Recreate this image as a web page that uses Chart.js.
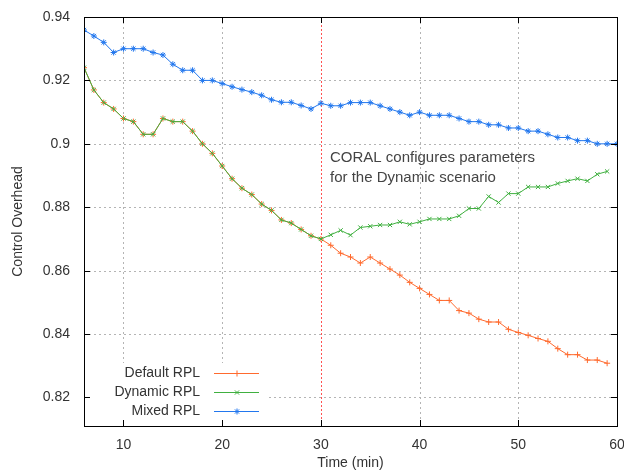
<!DOCTYPE html>
<html>
<head>
<meta charset="utf-8">
<script src="https://cdn.jsdelivr.net/npm/chart.js@4"></script>
<style>
  html, body { margin: 0; padding: 0; background: #fff; }
  #wrap { width: 624px; height: 472px; }
</style>
</head>
<body>
<div id="wrap"><canvas id="chart" width="624" height="472"></canvas></div>
<script>
// minutes 6..59 (mixed goes to 60)
const minutes = [6,7,8,9,10,11,12,13,14,15,16,17,18,19,20,21,22,23,24,25,26,27,28,29,30,31,32,33,34,35,36,37,38,39,40,41,42,43,44,45,46,47,48,49,50,51,52,53,54,55,56,57,58,59,60];

const defaultRpl = [0.924,0.917,0.913,0.911,0.908,0.907,0.903,0.903,0.908,0.907,0.907,0.904,0.900,0.897,0.893,0.889,0.886,0.884,0.881,0.879,0.876,0.875,0.873,0.871,0.870,
  0.868,0.8655,0.8643,0.8624,0.8643,0.8624,0.8605,0.8586,0.8563,0.8544,0.8525,0.8506,0.8506,0.8474,0.8466,0.8447,0.8438,0.8438,0.8415,0.8405,0.8396,0.8386,0.8377,0.8354,0.8335,0.8335,0.8318,0.8318,0.8308];

const dynamicRpl = [0.924,0.917,0.913,0.911,0.908,0.907,0.903,0.903,0.908,0.907,0.907,0.904,0.900,0.897,0.893,0.889,0.886,0.884,0.881,0.879,0.876,0.875,0.873,0.871,0.870,
  0.8713,0.8727,0.8712,0.8736,0.874,0.8744,0.8744,0.8754,0.8746,0.8754,0.8763,0.8763,0.8763,0.8773,0.8796,0.8796,0.8834,0.8815,0.8843,0.8843,0.8864,0.8864,0.8864,0.8875,0.8883,0.889,0.8883,0.8904,0.8913];

const mixedRpl = [0.9359,0.934,0.932,0.9288,0.930,0.930,0.930,0.9288,0.928,0.9251,0.9232,0.9232,0.920,0.920,0.919,0.918,0.9171,0.9163,0.9153,0.9139,0.9131,0.9131,0.9121,0.911,0.9128,
  0.912,0.912,0.913,0.913,0.913,0.912,0.911,0.910,0.909,0.910,0.909,0.909,0.909,0.908,0.907,0.907,0.906,0.906,0.905,0.905,0.904,0.904,0.903,0.902,0.902,0.901,0.901,0.900,0.900,0.900];

const yTicks = [0.82,0.84,0.86,0.88,0.9,0.92,0.94];
const xTicks = [10,20,30,40,50,60];
const markerX = 30;
const noteLines = ["CORAL configures parameters", "for the Dynamic scenario"];

const FONT = '"Liberation Sans", Arial, sans-serif';
const TEXT = "#333";
// later series is drawn on top, like gnuplot does
const series = [
  { label: "Default RPL", data: defaultRpl, color: "#ff6a2e", style: "cross", order: 2 },
  { label: "Dynamic RPL", data: dynamicRpl, color: "#40b040", style: "crossRot", order: 1 },
  { label: "Mixed RPL", data: mixedRpl, color: "#2277ee", style: "star", order: 0 }
];

const toPoints = arr => arr.map((v, i) => ({ x: minutes[i], y: v }));

// gnuplot-ish frame, dotted grid, inward ticks, tick labels, legend and note
const gnuplotLook = {
  id: "gnuplotLook",
  beforeDatasetsDraw(chart) {
    const { ctx, chartArea: a, scales: { x, y } } = chart;
    ctx.save();
    ctx.strokeStyle = "#b4b4b4"; ctx.lineWidth = 1; ctx.setLineDash([2, 3]);
    xTicks.forEach(t => { const px = Math.round(x.getPixelForValue(t)) + 0.5; if (t === markerX || t === 60) return; ctx.beginPath(); ctx.moveTo(px, a.top); ctx.lineTo(px, a.bottom); ctx.stroke(); });
    yTicks.forEach(t => { const py = Math.round(y.getPixelForValue(t)) + 0.5; if (t === 0.94) return; ctx.beginPath(); ctx.moveTo(a.left, py); ctx.lineTo(a.right, py); ctx.stroke(); });
    // red marker line
    ctx.strokeStyle = "#ff5050"; ctx.setLineDash([2, 2]);
    const mx = Math.round(x.getPixelForValue(markerX)) + 0.5;
    ctx.beginPath(); ctx.moveTo(mx, a.top); ctx.lineTo(mx, a.bottom); ctx.stroke();
    ctx.restore();
  },
  afterDatasetsDraw(chart) {
    const { ctx, chartArea: a, scales: { x, y } } = chart;
    ctx.save();
    // legend box (opaque)
    ctx.fillStyle = "#fff";
    ctx.fillRect(a.left + 1, 363, 268 - a.left, a.bottom - 363 - 1);
    // frame
    ctx.strokeStyle = "#000"; ctx.lineWidth = 1; ctx.setLineDash([]);
    ctx.strokeRect(Math.round(a.left) + 0.5, Math.round(a.top) + 0.5, Math.round(a.right - a.left), Math.round(a.bottom - a.top));
    // inward ticks on all sides
    ctx.beginPath();
    xTicks.forEach(t => { const px = Math.round(x.getPixelForValue(t)) + 0.5; ctx.moveTo(px, a.bottom); ctx.lineTo(px, a.bottom - 6); ctx.moveTo(px, a.top); ctx.lineTo(px, a.top + 6); });
    yTicks.forEach(t => { const py = Math.round(y.getPixelForValue(t)) + 0.5; ctx.moveTo(a.left, py); ctx.lineTo(a.left + 6, py); ctx.moveTo(a.right, py); ctx.lineTo(a.right - 6, py); });
    ctx.stroke();

    // tick labels
    ctx.font = "14px " + FONT; ctx.fillStyle = TEXT; ctx.textBaseline = "middle";
    ctx.textAlign = "right";
    yTicks.forEach(t => ctx.fillText(String(+t.toFixed(2)), a.left - 14, y.getPixelForValue(t)));
    ctx.textAlign = "center";
    xTicks.forEach(t => ctx.fillText(String(t), x.getPixelForValue(t), a.bottom + 19));

    // legend
    series.forEach((s, i) => {
      const ly = 373 + i * 19;
      ctx.fillStyle = TEXT; ctx.textAlign = "right";
      ctx.fillText(s.label, 200, ly);
      ctx.strokeStyle = s.color; ctx.fillStyle = s.color; ctx.lineWidth = 1;
      ctx.beginPath(); ctx.moveTo(214, ly + 0.5); ctx.lineTo(259, ly + 0.5); ctx.stroke();
      Chart.helpers.drawPoint(ctx, { pointStyle: s.style, radius: 3, borderWidth: 1 }, 237, ly + 0.5);
    });

    // annotation
    ctx.font = "15px " + FONT; ctx.textAlign = "left"; ctx.fillStyle = "#444";
    noteLines.forEach((t, i) => ctx.fillText(t, 330, 158 + i * 20));

    // axis titles
    ctx.font = "14px " + FONT; ctx.fillStyle = TEXT; ctx.textAlign = "center";
    ctx.fillText("Time (min)", (a.left + a.right) / 2, 463);
    ctx.translate(18, (a.top + a.bottom) / 2); ctx.rotate(-Math.PI / 2);
    ctx.fillText("Control Overhead", 0, 0);
    ctx.restore();
  }
};

new Chart(document.getElementById("chart").getContext("2d"), {
  type: "line",
  data: {
    datasets: series.map(s => ({
      label: s.label, data: toPoints(s.data), order: s.order,
      borderColor: s.color, backgroundColor: s.color, borderWidth: 1,
      pointStyle: s.style, pointRadius: 3, pointBorderWidth: 1, pointHoverRadius: 3, tension: 0
    }))
  },
  options: {
    responsive: false, animation: false, events: [],
    layout: { padding: { top: 17, right: 7, left: 0, bottom: 0 } },
    plugins: { legend: { display: false }, tooltip: { enabled: false } },
    scales: {
      x: {
        type: "linear", min: 6, max: 60,
        afterBuildTicks: s => { s.ticks = xTicks.map(v => ({ value: v })); },
        afterFit: s => { s.height = 46; },
        grid: { display: false }, border: { display: false },
        ticks: { display: false }
      },
      y: {
        min: 0.811, max: 0.94,
        afterBuildTicks: s => { s.ticks = yTicks.map(v => ({ value: v })); },
        afterFit: s => { s.width = 84; },
        grid: { display: false }, border: { display: false },
        ticks: { display: false }
      }
    }
  },
  plugins: [gnuplotLook]
});
</script>
</body>
</html>
